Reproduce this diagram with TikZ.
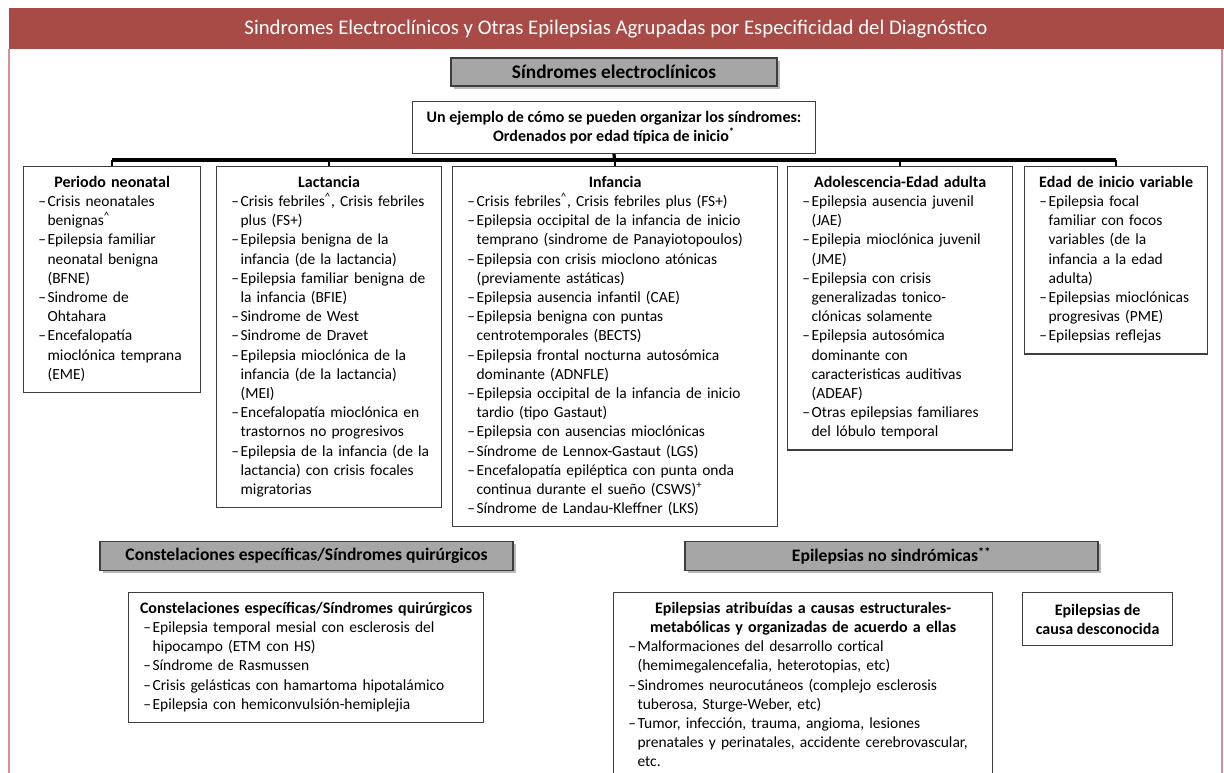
\documentclass[tikz,border=0pt]{standalone}
\usepackage{fontspec}
\setmainfont{Carlito}
\usetikzlibrary{positioning, shadows}

\definecolor{titlered}{RGB}{168,74,70}
\definecolor{framepink}{RGB}{214,146,146}
\definecolor{boxgray}{RGB}{166,166,166}
\definecolor{edgegray}{RGB}{62,62,62}

% list lines inside the boxes
\newcommand\itm[1]{\mbox{\strut\makebox[7pt][l]{--}#1}}
\newcommand\ctd[1]{\mbox{\strut\hspace*{7pt}#1}}
\newcommand\hd[1]{\makebox[\linewidth]{\strut\fontsize{12}{14.4}\selectfont\bfseries #1}}
\newcommand\crt{\textsuperscript{\textasciicircum}}

\begin{document}
\begin{tikzpicture}[
    x=0.75pt, y=-0.75pt,
    every node/.style={font=\fontsize{11.6}{14.4}\selectfont},
    graybox/.style={draw=edgegray, line width=1pt, fill=boxgray,
        drop shadow={shadow xshift=2pt, shadow yshift=-2pt, fill=black!55},
        minimum height=22pt, font=\fontsize{13.2}{15}\selectfont\bfseries},
    colbox/.style={draw=edgegray, line width=0.9pt, fill=white, anchor=north west,
        inner xsep=11pt, inner ysep=5.5pt, align=left, text width=#1},
    headbox/.style={draw=edgegray, line width=0.9pt, fill=white, align=center,
        font=\fontsize{12}{14.4}\selectfont\bfseries},
    busline/.style={line width=2.4pt},
    dropline/.style={line width=1.8pt}
]
\useasboundingbox (0,0) rectangle (1224,773);
\clip (0,0) rectangle (1224,773);

% frame and title bar
\draw[framepink, line width=1.1pt] (9,49) -- (9,780);
\draw[framepink, line width=1.1pt] (1222,49) -- (1222,780);
\fill[titlered] (9,8) rectangle (1224,49);
\node[text=white, font=\fontsize{15.6}{17}\selectfont] (title) at (616,29)
    {Sindromes Electroclínicos y Otras Epilepsias Agrupadas por Especificidad del Diagnóstico};

% electroclinical syndromes
\node[graybox, minimum width=244.5pt, minimum height=21pt, font=\fontsize{14.5}{16}\selectfont\bfseries] (sel) at (614,72) {Síndromes electroclínicos};
\node[headbox, minimum width=302pt, minimum height=39pt, below=10.5pt of sel] (ej)
    {Un ejemplo de cómo se pueden organizar los síndromes:\\
     Ordenados por edad típica de inicio\textsuperscript{*}};

\node[colbox=110.75pt] (neo) at (23,166) {%
\hd{Periodo neonatal}\\
\itm{Crisis neonatales}\\
\ctd{benignas\crt}\\
\itm{Epilepsia familiar}\\
\ctd{neonatal benigna}\\
\ctd{(BFNE)}\\
\itm{Sindrome de}\\
\ctd{Ohtahara}\\
\itm{Encefalopatía}\\
\ctd{mioclónica temprana}\\
\ctd{(EME)}};

\node[colbox=146.75pt] (lac) at (216,166) {%
\hd{Lactancia}\\
\itm{Crisis febriles\crt, Crisis febriles}\\
\ctd{plus (FS+)}\\
\itm{Epilepsia benigna de la}\\
\ctd{infancia (de la lactancia)}\\
\itm{Epilepsia familiar benigna de}\\
\ctd{la infancia (BFIE)}\\
\itm{Sindrome de West}\\
\itm{Sindrome de Dravet}\\
\itm{Epilepsia mioclónica de la}\\
\ctd{infancia (de la lactancia)}\\
\ctd{(MEI)}\\
\itm{Encefalopatía mioclónica en}\\
\ctd{trastornos no progresivos}\\
\itm{Epilepsia de la infancia (de la}\\
\ctd{lactancia) con crisis focales}\\
\ctd{migratorias}};

\node[colbox=221.75pt] (inf) at (452,166) {%
\hd{Infancia}\\
\itm{Crisis febriles\crt, Crisis febriles plus (FS+)}\\
\itm{Epilepsia occipital de la infancia de inicio}\\
\ctd{temprano (sindrome de Panayiotopoulos)}\\
\itm{Epilepsia con crisis mioclono atónicas}\\
\ctd{(previamente astáticas)}\\
\itm{Epilepsia ausencia infantil (CAE)}\\
\itm{Epilepsia benigna con puntas}\\
\ctd{centrotemporales (BECTS)}\\
\itm{Epilepsia frontal nocturna autosómica}\\
\ctd{dominante (ADNFLE)}\\
\itm{Epilepsia occipital de la infancia de inicio}\\
\ctd{tardio (tipo Gastaut)}\\
\itm{Epilepsia con ausencias mioclónicas}\\
\itm{Síndrome de Lennox-Gastaut (LGS)}\\
\itm{Encefalopatía epiléptica con punta onda}\\
\ctd{continua durante el sueño (CSWS)\textsuperscript{+}}\\
\itm{Síndrome de Landau-Kleffner (LKS)}};

\node[colbox=146.75pt] (ado) at (787,166) {%
\hd{Adolescencia-Edad adulta}\\
\itm{Epilepsia ausencia juvenil}\\
\ctd{(JAE)}\\
\itm{Epilepia mioclónica juvenil}\\
\ctd{(JME)}\\
\itm{Epilepsia con crisis}\\
\ctd{generalizadas tonico-}\\
\ctd{clónicas solamente}\\
\itm{Epilepsia autosómica}\\
\ctd{dominante con}\\
\ctd{caracteristicas auditivas}\\
\ctd{(ADEAF)}\\
\itm{Otras epilepsias familiares}\\
\ctd{del lóbulo temporal}};

\node[colbox=115.25pt] (var) at (1024,166) {%
\hd{Edad de inicio variable}\\
\itm{Epilepsia focal}\\
\ctd{familiar con focos}\\
\ctd{variables (de la}\\
\ctd{infancia a la edad}\\
\ctd{adulta)}\\
\itm{Epilepsias mioclónicas}\\
\ctd{progresivas (PME)}\\
\itm{Epilepsias reflejas}};

% bus from the example box to the age groups
\coordinate (bus) at (614.5,160);
\draw[busline] (ej.south) -- (bus);
\draw[busline] (neo.north |- bus) -- (var.north |- bus);
\foreach \c in {neo, lac, inf, ado, var}
    \draw[dropline] (\c.north |- bus) -- (\c.north);

% specific constellations
\node[graybox, minimum width=309.75pt] (cgr) at (306.5,556) {Constelaciones específicas/Síndromes quirúrgicos};
\node[colbox=244.25pt] (con) at (128,592) {%
\hd{Constelaciones específicas/Síndromes quirúrgicos}\\
\itm{Epilepsia temporal mesial con esclerosis del}\\
\ctd{hipocampo (ETM con HS)}\\
\itm{Síndrome de Rasmussen}\\
\itm{Crisis gelásticas con hamartoma hipotalámico}\\
\itm{Epilepsia con hemiconvulsión-hemiplejia}};

% non-syndromic epilepsies
\node[graybox, minimum width=309.75pt] (ngr) at (891.5,556) {Epilepsias no sindrómicas\textsuperscript{**}};
\node[colbox=262.25pt] (atr) at (613,592) {%
\hd{Epilepsias atribuídas a causas estructurales-}\\
\hd{metabólicas y organizadas de acuerdo a ellas}\\
\itm{Malformaciones del desarrollo cortical}\\
\ctd{(hemimegalencefalia, heterotopias, etc)}\\
\itm{Sindromes neurocutáneos (complejo esclerosis}\\
\ctd{tuberosa, Sturge-Weber, etc)}\\
\itm{Tumor, infección, trauma, angioma, lesiones}\\
\ctd{prenatales y perinatales, accidente cerebrovascular,}\\
\ctd{etc.}};
\node[headbox, minimum width=112.5pt, minimum height=39.75pt, anchor=north west] (unk) at (1022,592)
    {Epilepsias de\\causa desconocida};
\end{tikzpicture}
\end{document}
